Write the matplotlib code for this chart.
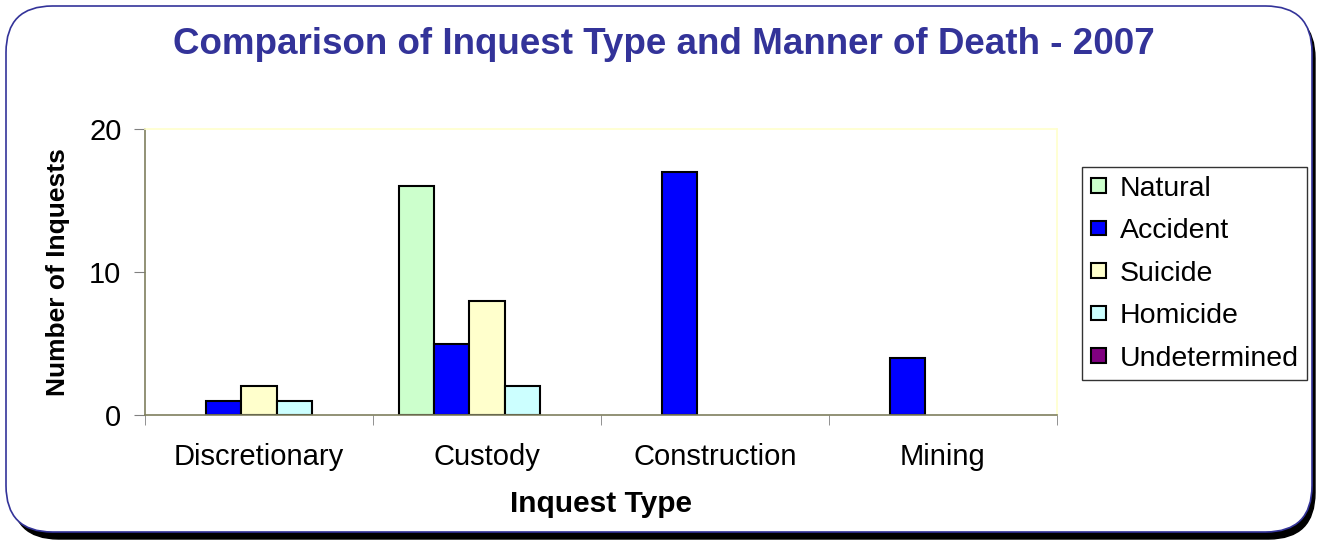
#!/usr/bin/env python3

from matplotlib import pyplot as plt
from matplotlib.patches import FancyBboxPatch
import numpy as np

plt.rcParams['font.family'] = ['Liberation Sans', 'DejaVu Sans']

inquest_types = ["Discretionary", "Custody", "Construction", "Mining"]
manners = ["Natural", "Accident", "Suicide", "Homicide", "Undetermined"]
natural = [0, 16, 0, 0]
accident = [1, 5, 17, 4]
suicide = [2, 8, 0, 0]
homicide = [1, 2, 0, 0]
undetermined = [0, 0, 0, 0]
colors = ["#CCFFCC", "#0000FF", "#FFFFCC", "#CCFFFF", "#800080"]

W, H = 1325, 544
fig = plt.figure(figsize=(W / 100, H / 100), dpi=100)

# rounded frame with shadow, kept behind the axes
shadow = FancyBboxPatch((12 / W, 5 / H), 1303 / W, 527 / H,
                        boxstyle="round,pad=0,rounding_size=0.035",
                        transform=fig.transFigure, facecolor="black",
                        edgecolor="black", mutation_aspect=W / H, zorder=-2)
frame = FancyBboxPatch((6 / W, 12 / H), 1306 / W, 526 / H,
                       boxstyle="round,pad=0,rounding_size=0.035",
                       transform=fig.transFigure, facecolor="white",
                       edgecolor="#333399", linewidth=1.2,
                       mutation_aspect=W / H, zorder=-1)
fig.patches.extend([shadow, frame])

ax = fig.add_axes([145 / W, 1 - 415 / H, 912 / W, 286 / H])
ax.set_facecolor("none")

series = [natural, accident, suicide, homicide, undetermined]
x = np.arange(len(inquest_types)) + 0.5
w = 1 / 6.5
for i, (name, vals) in enumerate(zip(manners, series)):
    # zero values are not drawn, like in the original
    heights = [v if v else np.nan for v in vals]
    ax.bar(x + (i - 2) * w, heights, w, color=colors[i], edgecolor="black",
           linewidth=1.5, label=name)

ax.set_xlim(0, 4)
ax.set_ylim(0, 20)
ax.set_yticks([0, 10, 20])
ax.set_xticks(x)
ax.set_xticklabels(inquest_types)
ax.set_xticks([0, 1, 2, 3, 4], minor=True)
ax.tick_params(axis="x", which="major", length=0, labelsize=21, pad=20)
ax.tick_params(axis="x", which="minor", length=7, color="#808080")
ax.tick_params(axis="y", length=8, color="#808080", labelsize=21, pad=9)

for s in ["left", "bottom"]:
    ax.spines[s].set_color("#7F7F5F")
    ax.spines[s].set_linewidth(1.2)
for s in ["top", "right"]:
    ax.spines[s].set_color("#FFFFCC")
    ax.spines[s].set_linewidth(1.2)

ax.set_xlabel("Inquest Type", fontsize=21.5, fontweight="bold", labelpad=14)
ax.set_ylabel("Number of Inquests", fontsize=19, fontweight="bold", labelpad=14)

fig.text(664 / W, 1 - 45 / H, "Comparison of Inquest Type and Manner of Death - 2007",
         ha="center", va="center", fontsize=26.5, fontweight="bold",
         color="#333399")

leg = ax.legend(loc="upper left", bbox_to_anchor=(1082 / W, 1 - 167 / H),
                bbox_transform=fig.transFigure, fontsize=20.5, frameon=True,
                fancybox=False, edgecolor="black", handlelength=0.55,
                handleheight=0.4, handletextpad=0.48, labelspacing=0.58,
                borderpad=0.3, borderaxespad=0)
leg.get_frame().set_linewidth(1.0)

fig.savefig("out.png", dpi=100)
